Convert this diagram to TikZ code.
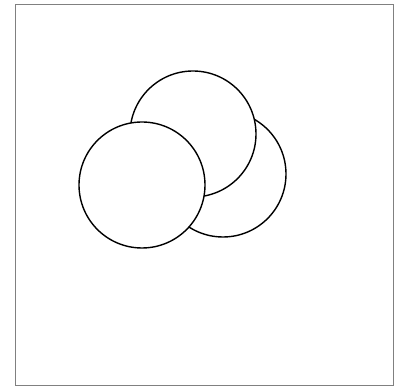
\documentclass[tikz,border=0pt]{standalone}

\begin{document}
\begin{tikzpicture}[x=0.025cm, y=-0.025cm, disc/.style={draw, fill=white, line width=1pt}]

	\useasboundingbox (0,0) rectangle (397,386);
	\draw[gray, line width=0.5pt] (15,4) rectangle (393,385);
	\coordinate (R) at (223,174);
	\coordinate (T) at (193,134);
	\coordinate (L) at (142,185);
	\draw[disc] (R) circle (63);
	\draw[disc] (T) circle (63);
	\draw[disc] (L) circle (63);

\end{tikzpicture}
\end{document}
